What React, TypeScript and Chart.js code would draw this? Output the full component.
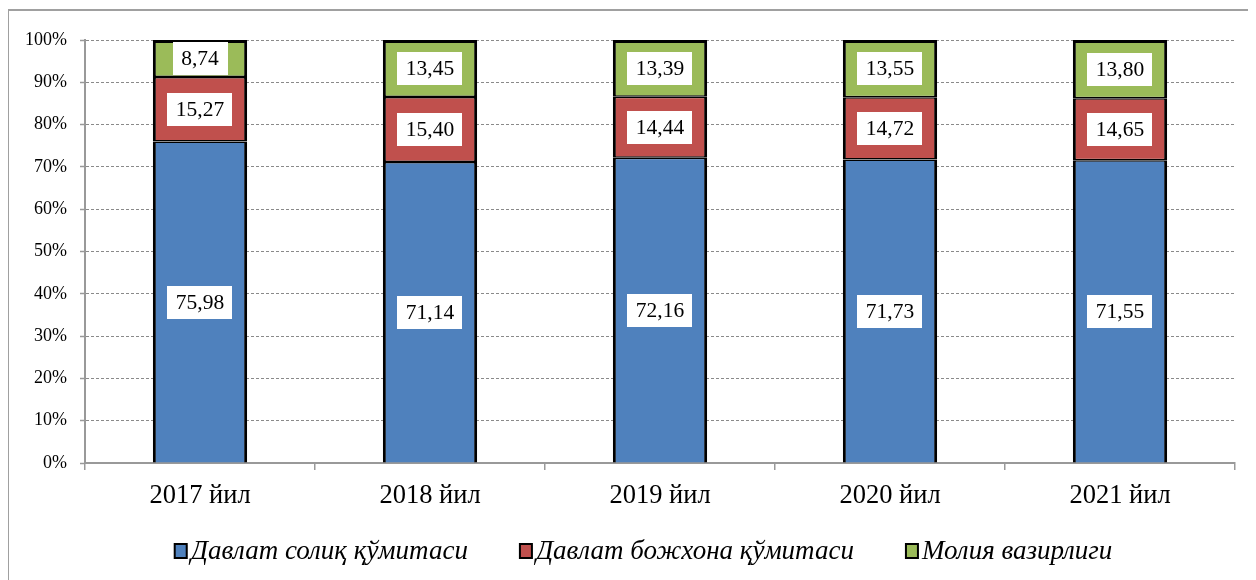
import React, { useEffect, useRef } from "react";
import { Chart, registerables } from "chart.js";

Chart.register(...registerables);

const categories = ["2017 йил", "2018 йил", "2019 йил", "2020 йил", "2021 йил"];
const seriesNames = ["Давлат солиқ қўмитаси", "Давлат божхона қўмитаси", "Молия вазирлиги"];
const taxCommittee = [75.98, 71.14, 72.16, 71.73, 71.55];
const customsCommittee = [15.27, 15.4, 14.44, 14.72, 14.65];
const financeMinistry = [8.74, 13.45, 13.39, 13.55, 13.8];
const colors = ["#4F81BD", "#C0504D", "#9BBB59"];

const SERIF = "'Liberation Serif', 'Times New Roman', serif";

const labelPlugin = {
  id: "boxLabels",
  afterDatasetsDraw(chart: any) {
    const ctx = chart.ctx;
    ctx.save();
    ctx.font = `21.5px ${SERIF}`;
    ctx.textAlign = "center";
    ctx.textBaseline = "middle";
    chart.data.datasets.forEach((ds: any, di: number) => {
      const meta = chart.getDatasetMeta(di);
      meta.data.forEach((el: any, i: number) => {
        const v = ds.data[i];
        const txt = v.toFixed(2).replace(".", ",");
        const cx = el.x;
        const cy = (el.y + el.base) / 2;
        const w = ctx.measureText(txt).width + 17;
        const h = 33;
        ctx.fillStyle = "#ffffff";
        ctx.fillRect(Math.round(cx - w / 2), Math.round(cy - h / 2), Math.round(w), h);
        ctx.fillStyle = "#000000";
        ctx.fillText(txt, cx, cy + 1);
      });
    });
    ctx.restore();
  },
};

const legendPlugin = {
  id: "customLegend",
  afterDraw(chart: any) {
    const ctx = chart.ctx;
    ctx.save();
    ctx.font = `italic 27px ${SERIF}`;
    ctx.textBaseline = "middle";
    ctx.textAlign = "left";
    const boxW = 12;
    const boxGap = 4;
    const itemGap = 52;
    const widths = seriesNames.map((n) => ctx.measureText(n).width);
    const total = widths.reduce((a, w) => a + boxW + boxGap + w, 0) + itemGap * (seriesNames.length - 1);
    const centerX = 635.5;
    const cy = 543;
    let x = centerX - total / 2;
    seriesNames.forEach((n, i) => {
      ctx.fillStyle = "rgba(0,0,0,0.25)";
      ctx.fillRect(x + 1, cy - 6, boxW, 14);
      ctx.fillStyle = colors[i];
      ctx.fillRect(x, cy - 7, boxW, 14);
      ctx.strokeStyle = "#000";
      ctx.lineWidth = 2;
      ctx.strokeRect(x, cy - 7, boxW, 14);
      x += boxW + boxGap;
      ctx.fillStyle = "#000";
      ctx.fillText(n, x, cy + 1);
      x += widths[i] + itemGap;
    });
    ctx.restore();
  },
};

export default function App() {
  const ref = useRef<HTMLCanvasElement>(null);
  useEffect(() => {
    if (!ref.current) return;
    const data = [taxCommittee, customsCommittee, financeMinistry];
    const borders = [
      { top: 1.5, bottom: 0, left: 3, right: 3 },
      { top: 1.5, bottom: 1.5, left: 3, right: 3 },
      { top: 3, bottom: 1.5, left: 3, right: 3 },
    ];
    const chart = new Chart(ref.current, {
      type: "bar",
      data: {
        labels: categories,
        datasets: data.map((d, i) => ({
          label: seriesNames[i],
          data: d,
          backgroundColor: colors[i],
          borderColor: "#000000",
          borderWidth: borders[i] as any,
          borderSkipped: false as any,
          barPercentage: 0.41,
          categoryPercentage: 1,
        })),
      },
      options: {
        animation: false,
        responsive: false,
        layout: { padding: { left: 0, top: 32, right: 21, bottom: 0 } },
        plugins: {
          legend: { display: false },
          tooltip: { enabled: false },
          title: { display: false },
        },
        scales: {
          x: {
            stacked: true,
            offset: true,
            afterFit: (s: any) => {
              s.height = 117;
            },
            grid: {
              offset: true,
              drawOnChartArea: false,
              drawTicks: true,
              tickLength: 7,
              color: "#999999",
              lineWidth: 1.5,
            },
            border: { display: true, color: "#999999", width: 2 },
            ticks: {
              color: "#000000",
              font: { family: SERIF, size: 26.5 },
              padding: 10,
              maxRotation: 0,
            },
          },
          y: {
            stacked: true,
            min: 0,
            max: 100,
            afterFit: (s: any) => {
              s.width = 77;
            },
            grid: {
              color: "#8a8a8a",
              lineWidth: 1,
              drawTicks: true,
              tickLength: 5,
              tickColor: "#999999",
              tickWidth: 1.5,
            } as any,
            border: { display: true, color: "#999999", width: 2, dash: [3, 2] },
            ticks: {
              stepSize: 10,
              color: "#000000",
              font: { family: SERIF, size: 18 },
              padding: 13,
              callback: (v: any) => `${v}%`,
            },
          },
        },
      },
      plugins: [labelPlugin, legendPlugin],
    });
    return () => chart.destroy();
  }, []);

  return (
    <div style={{ position: "relative", width: 1248, height: 572, overflow: "hidden" }}>
      <div
        style={{
          position: "absolute",
          left: -1,
          top: 1,
          width: 1300,
          height: 700,
          border: "2px solid #a0a0a0",
          boxSizing: "border-box",
        }}
      />
      <canvas
        ref={ref}
        width={1248}
        height={572}
        style={{ position: "absolute", left: 0, top: 0, width: 1248, height: 572 }}
      />
    </div>
  );
}
